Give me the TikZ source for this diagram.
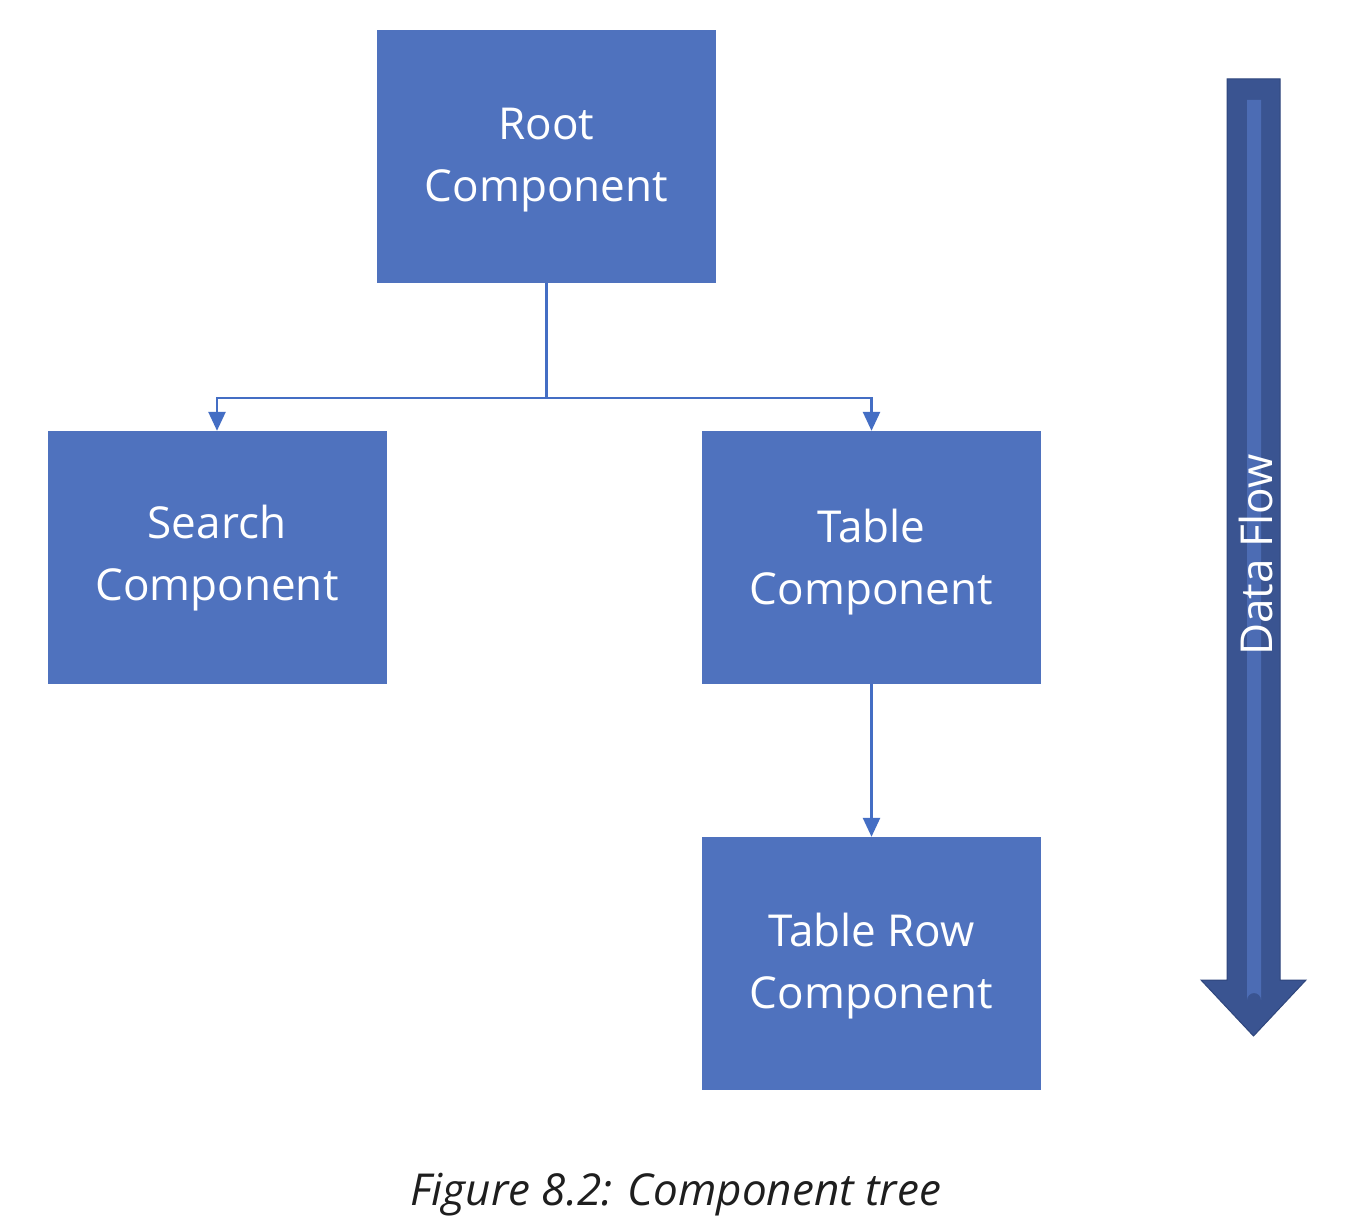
\documentclass[tikz,border=0pt]{standalone}
\usepackage{fontspec}
\setmainfont{Open Sans}
\usetikzlibrary{arrows.meta}
\definecolor{boxblue}{RGB}{79,114,190}
\definecolor{linkblue}{RGB}{68,110,196}
\definecolor{flowdark}{RGB}{58,84,145}
\definecolor{flowedge}{RGB}{47,70,125}
\definecolor{flowlight}{RGB}{76,108,180}
\definecolor{captext}{RGB}{30,30,30}
\tikzset{
  compbox/.style={fill=boxblue, minimum width=339pt, minimum height=253pt, inner sep=0pt,
    text=white, align=center, font=\fontsize{44}{62}\selectfont},
  boxtext/.style={text=white, align=center, font=\fontsize{44}{62}\selectfont, inner sep=0pt},
  conn/.style={draw=linkblue, line width=2.6pt},
  connarrow/.style={conn, -{Triangle[width=17pt,length=19pt]}},
}
\begin{document}
\begin{tikzpicture}[x=1pt,y=-1pt]
\useasboundingbox (0,0) rectangle (1364,1230);
\fill[white] (0,0) rectangle (1364,1230);

\node[compbox] (root)   at (546.5,156.5) {};
\node[compbox] (search) at (217,557.5)   {};
\node[compbox] (table)  at (871.5,557.5) {};
\node[compbox] (row)    at (871.5,963.5) {};
\node[boxtext] (rootlbl)   at ([yshift=-4pt]root.center)   {Root\\Component};
\node[boxtext] (searchlbl) at ([yshift=-1pt]search.center) {Search\\Component};
\node[boxtext] (tablelbl)  at ([yshift=-5pt]table.center)  {Table\\Component};
\node[boxtext] (rowlbl)    at ([yshift=-3pt]row.center)    {Table Row\\Component};

\coordinate (split) at (546.5,398);
\draw[conn] (root.south) -- (split);
\draw[connarrow] (split) -| (search.north);
\draw[connarrow] (split) -| (table.north);
\draw[connarrow] (table.south) -- (row.north);

% Data flow arrow
\filldraw[fill=flowdark, draw=flowedge, line width=1pt, line join=miter]
  (1227,79) -- (1280,79) -- (1280,980) -- (1306,980) -- (1253.5,1036)
  -- (1201,980) -- (1227,980) -- cycle;
\fill[flowlight] (1247,100) -- (1261,100) -- (1261,1000) arc (0:-180:7) -- cycle;
\node[rotate=90, text=white, font=\fontsize{44}{52}\selectfont, inner sep=0pt] (flow) at (1256,555) {Data Flow};

\node[font=\fontsize{44}{52}\selectfont\itshape, text=captext, anchor=base] (caption) at (676,1205) {Figure 8.2: Component tree};
\end{tikzpicture}
\end{document}
